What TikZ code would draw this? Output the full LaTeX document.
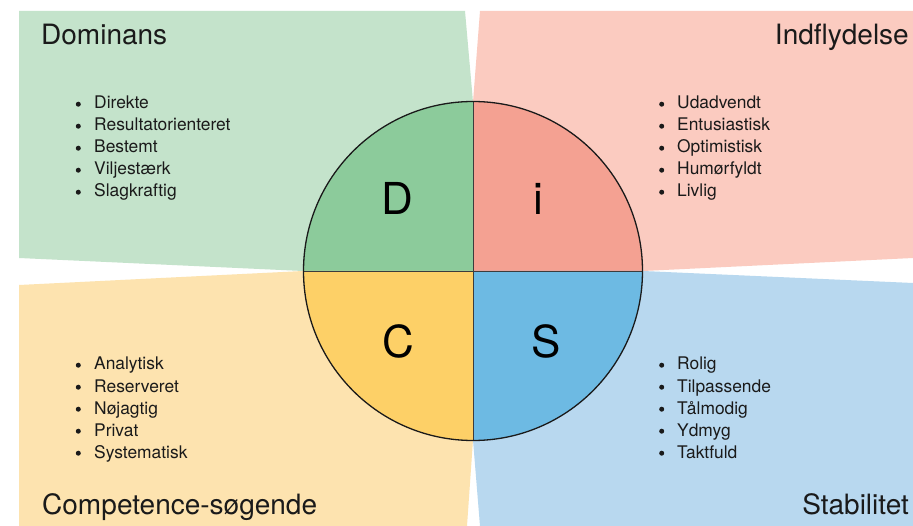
\documentclass[tikz,border=0pt]{standalone}
\usepackage{fontspec}
\setmainfont{TeX Gyre Heros}
\usetikzlibrary{calc}
\definecolor{gpanel}{HTML}{C4E3CB}
\definecolor{gq}{HTML}{8CCB9B}
\definecolor{ppanel}{HTML}{FBCBC0}
\definecolor{pq}{HTML}{F4A192}
\definecolor{opanel}{HTML}{FDE3AF}
\definecolor{oq}{HTML}{FDD067}
\definecolor{bpanel}{HTML}{B8D8EF}
\definecolor{bq}{HTML}{6DBAE3}
\definecolor{ink}{HTML}{1A1A1A}
\tikzset{
  title/.style={inner sep=0pt, text=ink, font=\fontsize{28}{30}\selectfont},
  item/.style={inner sep=0pt, anchor=base west, text=ink, font=\fontsize{17.4}{22}\selectfont},
  letter/.style={inner sep=0pt, anchor=base, text=black, font=\fontsize{44}{46}\selectfont},
  quad/.style={draw=ink!85, line width=0.8pt},
  dot/.style={fill=ink},
}
\begin{document}
\begin{tikzpicture}[x=1pt,y=-1pt]
\useasboundingbox (0,0) rectangle (913,526);
\fill[white] (0,0) rectangle (913,526);
% panels
\fill[gpanel] (19,11) -- (465,11) -- (473,102) -- (473,271) -- (303,271) -- (19,258) -- cycle;
\fill[ppanel] (480,11) -- (913,11) -- (913,258) -- (643,271) -- (473,271) -- (473,102) -- cycle;
\fill[opanel] (19,285) -- (303,271) -- (473,271) -- (473,440) -- (467,526) -- (19,526) -- cycle;
\fill[bpanel] (643,271) -- (913,283) -- (913,526) -- (480,526) -- (473,440) -- (473,271) -- cycle;
% circle (y axis points down: visual up is angle 270)
\coordinate (c) at (473,271);
\coordinate (cl) at ($(c)+(-169.5,0)$);
\coordinate (cr) at ($(c)+(169.5,0)$);
\coordinate (ct) at ($(c)+(0,-169.5)$);
\coordinate (cb) at ($(c)+(0,169.5)$);
\fill[gq] (c) -- (cl) arc[start angle=180,end angle=270,radius=169.5] -- cycle;
\fill[pq] (c) -- (ct) arc[start angle=270,end angle=360,radius=169.5] -- cycle;
\fill[bq] (c) -- (cr) arc[start angle=0,end angle=90,radius=169.5] -- cycle;
\fill[oq] (c) -- (cb) arc[start angle=90,end angle=180,radius=169.5] -- cycle;
\draw[quad] (cl) -- (cr);
\draw[quad] (ct) -- (cb);
\draw[ink, line width=1.3pt] (c) circle[radius=169.5];
% letters
\node[letter] (ld) at (397.5,215) {D};
\node[letter] (li) at (538,215) {i};
\node[letter] (lc) at (398,358) {C};
\node[letter] (ls) at (546,358) {S};
% titles
\node[title, anchor=base west] (td) at (41,45) {Dominans};
\node[title, anchor=base east] (ti) at (909,45) {Indflydelse};
\node[title, anchor=base west] (tc) at (42,514) {Competence-søgende};
\node[title, anchor=base east] (ts) at (909,514) {Stabilitet};
% lists
\foreach \t [count=\k] in {Direkte,Resultatorienteret,Bestemt,Viljestærk,Slagkraftig}{
  \node[item] (d\k) at (94,{109+22*(\k-1)}) {\t};
  \fill[dot] (78.3,{104.2+22*(\k-1)}) circle[radius=2.5];}
\foreach \t [count=\k] in {Udadvendt,Entusiastisk,Optimistisk,Humørfyldt,Livlig}{
  \node[item] (i\k) at (677,{109+22*(\k-1)}) {\t};
  \fill[dot] (661.7,{104.2+22*(\k-1)}) circle[radius=2.5];}
\foreach \t [count=\k] in {Analytisk,Reserveret,Nøjagtig,Privat,Systematisk}{
  \node[item] (c\k) at (94,{370+22*(\k-1)}) {\t};
  \fill[dot] (78.3,{365.2+22*(\k-1)}) circle[radius=2.5];}
\foreach \t [count=\k] in {Rolig,Tilpassende,Tålmodig,Ydmyg,Taktfuld}{
  \node[item] (s\k) at (677,{370+22*(\k-1)}) {\t};
  \fill[dot] (661.7,{365.2+22*(\k-1)}) circle[radius=2.5];}
\end{tikzpicture}
\end{document}
